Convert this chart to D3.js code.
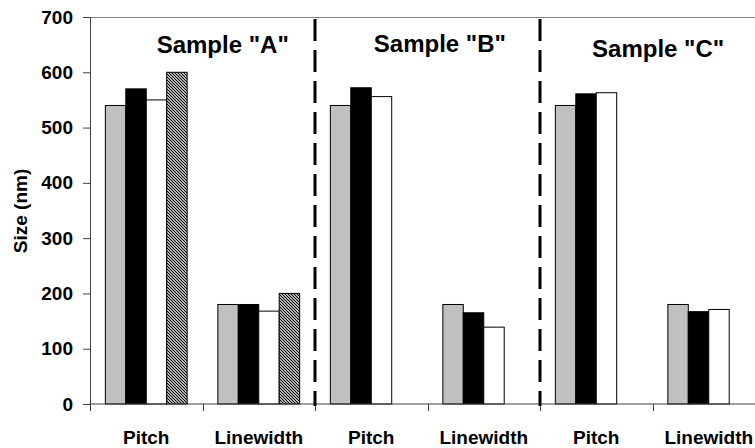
<html>
<head>
  <script src="https://d3js.org/d3.v7.min.js"></script>
  <style>
    body { margin: 0; background: #fff; }
    text { font-family: "Liberation Sans", Arial, sans-serif; font-weight: bold; fill: #000; }
  </style>
</head>
<body>
  <div id="chart"></div>
  <script>
    // categories along the x axis (3 samples x 2 measurements)
    const categories = ["A-Pitch", "A-Linewidth", "B-Pitch", "B-Linewidth", "C-Pitch", "C-Linewidth"];
    const categoryLabels = ["Pitch", "Linewidth", "Pitch", "Linewidth", "Pitch", "Linewidth"];
    const seriesNames = ["s1", "s2", "s3", "s4"];
    // values per series, one per category (null = no bar)
    const s1 = [540, 180, 540, 180, 540, 180];
    const s2 = [570, 180, 572, 165, 561, 167];
    const s3 = [550, 168, 556, 139, 563, 171];
    const s4 = [600, 200, null, null, null, null];
    const yTicks = [0, 100, 200, 300, 400, 500, 600, 700];
    const sampleTitles = ['Sample "A"', 'Sample "B"', 'Sample "C"'];
    const titlePos = [1.18, 3.11, 5.05];      // in category units
    const titleVal = [635, 637, 628];         // in data units (baseline)
    const dividers = [2, 4];                  // category boundaries with dashed lines

    const w = 755, h = 448;
    const mLeft = 90, mRight = 765, mTop = 17, mBottom = 404;

    const svg = d3.select("#chart").append("svg")
      .attr("width", w).attr("height", h);

    const defs = svg.append("defs");
    const pat = defs.append("pattern")
      .attr("id", "hatch")
      .attr("patternUnits", "userSpaceOnUse")
      .attr("width", 3).attr("height", 3);
    pat.append("rect").attr("width", 3).attr("height", 3).attr("fill", "#fff");
    pat.append("path").attr("d", "M-1,-1 L4,4 M-1,2 L1,4 M2,-1 L4,1")
      .attr("stroke", "#000").attr("stroke-width", 1.2);

    const x0 = d3.scaleBand().domain(categories).range([mLeft, mRight]);
    const x1 = d3.scaleBand().domain(seriesNames).range([0, x0.bandwidth()])
      .paddingInner(0).paddingOuter(0.75);
    const xc = d3.scaleLinear().domain([0, categories.length]).range([mLeft, mRight]);
    const y = d3.scaleLinear().domain([0, 700]).range([mBottom, mTop]);

    const fills = { s1: "#c0c0c0", s2: "#000", s3: "#fff", s4: "url(#hatch)" };
    const seriesData = { s1: s1, s2: s2, s3: s3, s4: s4 };

    // plot area top border
    svg.append("line")
      .attr("x1", mLeft).attr("x2", mRight)
      .attr("y1", mTop + 0.5).attr("y2", mTop + 0.5)
      .attr("stroke", "#808080");

    // bars
    seriesNames.forEach(s => {
      svg.append("g").selectAll("rect")
        .data(seriesData[s].map((v, i) => ({ cat: categories[i], v: v })).filter(d => d.v != null))
        .enter().append("rect")
        .attr("x", d => x0(d.cat) + x1(s))
        .attr("y", d => y(d.v))
        .attr("width", x1.bandwidth())
        .attr("height", d => y(0) - y(d.v))
        .attr("fill", fills[s])
        .attr("stroke", "#000")
        .attr("stroke-width", 1);
    });

    // y axis
    const yAxis = d3.axisLeft(y).tickValues(yTicks).tickSize(7).tickPadding(10);
    const gy = svg.append("g").attr("transform", "translate(" + mLeft + ",0)").call(yAxis);
    gy.select(".domain").attr("stroke", "#404040");
    gy.selectAll(".tick line").attr("stroke", "#404040");
    gy.selectAll("text").style("font-size", "19px");

    // x axis with ticks at category boundaries
    const gx = svg.append("g").attr("transform", "translate(0," + mBottom + ")");
    gx.append("line").attr("x1", mLeft).attr("x2", mRight).attr("stroke", "#404040");
    gx.selectAll(".bt").data(d3.range(categories.length + 1)).enter().append("line")
      .attr("x1", d => Math.round(xc(d)) + 0.5).attr("x2", d => Math.round(xc(d)) + 0.5)
      .attr("y1", 0).attr("y2", 7).attr("stroke", "#404040");
    gx.selectAll(".cl").data(categories).enter().append("text")
      .attr("x", d => x0(d) + x0.bandwidth() / 2)
      .attr("y", 40)
      .attr("text-anchor", "middle")
      .style("font-size", "19px")
      .text((d, i) => categoryLabels[i]);

    // dashed separators
    svg.selectAll(".div").data(dividers).enter().append("line")
      .attr("x1", d => xc(d)).attr("x2", d => xc(d))
      .attr("y1", mTop + 2).attr("y2", mBottom + 2)
      .attr("stroke", "#000").attr("stroke-width", 3)
      .attr("stroke-dasharray", "22,9");

    // sample titles
    svg.selectAll(".st").data(sampleTitles).enter().append("text")
      .attr("x", (d, i) => xc(titlePos[i]))
      .attr("y", (d, i) => y(titleVal[i]))
      .attr("text-anchor", "middle")
      .style("font-size", "24px")
      .text(d => d);

    // y label
    svg.append("text")
      .attr("transform", "translate(27,211) rotate(-90)")
      .attr("text-anchor", "middle")
      .style("font-size", "19px")
      .text("Size (nm)");
  </script>
</body>
</html>
